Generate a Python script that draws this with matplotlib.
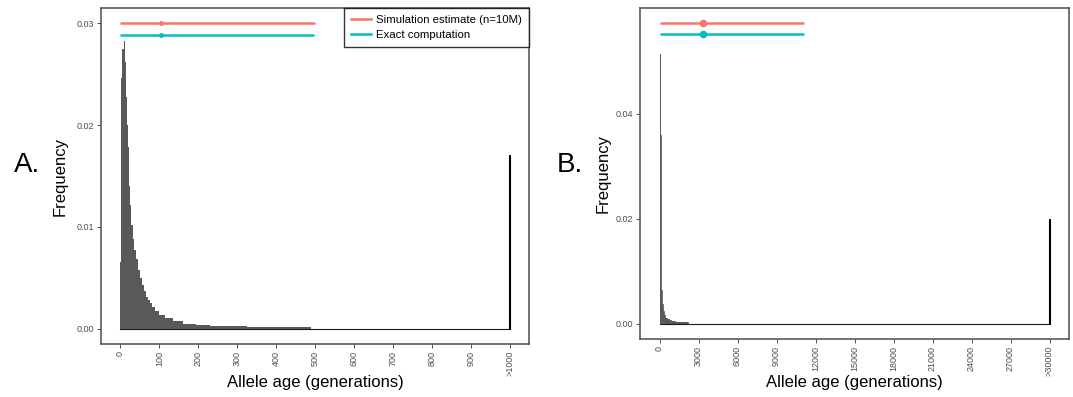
import matplotlib
matplotlib.use("Agg")
import matplotlib.pyplot as plt
from matplotlib.lines import Line2D
import numpy as np

plt.rcParams.update({
    "font.family": ["Liberation Sans", "DejaVu Sans"],
    "font.size": 8,
})

RED = "#F8766D"
CYAN = "#00BFC4"
BAR = "#595959"
FRAME = "#4d4d4d"

# ---- panel A: allele age histogram (generations, bin edges + heights) ----
a_edges = [0, 2, 5, 8, 11, 13, 15, 17, 19, 21, 23, 25, 28, 31, 35, 40, 45, 50,
           55, 60, 65, 70, 75, 80, 90, 100, 115, 135, 160, 195, 230, 255, 325, 490]
a_freq = [0.0066, 0.0246, 0.0275, 0.0283, 0.0262, 0.0245, 0.0228, 0.0200, 0.0178,
          0.0158, 0.0140, 0.0122, 0.0102, 0.0088, 0.0077, 0.0068, 0.0058, 0.0050,
          0.0043, 0.0037, 0.0031, 0.0028, 0.0025, 0.0021, 0.0017, 0.00135, 0.00105,
          0.00075, 0.0005, 0.00038, 0.0003, 0.00022, 0.00015]
a_tail_freq = 0.0171          # ">1000" bin
a_max = 1000
a_ticks = [0, 100, 200, 300, 400, 500, 600, 700, 800, 900, 1000]
a_ticklabels = ["0", "100", "200", "300", "400", "500", "600", "700", "800", "900", ">1000"]
a_yticks = [0.00, 0.01, 0.02, 0.03]

# mean and interval (simulation, exact)
a_mean = [104, 104]
a_lo = [0, 0]
a_hi = [500, 497]
a_y = [0.0300, 0.02885]

# ---- panel B ----
b_edges = [0, 60, 130, 210, 290, 360, 440, 600, 750, 900, 1200, 2230]
b_freq = [0.0514, 0.0359, 0.0065, 0.0037, 0.0025, 0.00165, 0.0012, 0.0009,
          0.0007, 0.0006, 0.0004]
b_tail_freq = 0.0199          # ">30000" bin
b_max = 30000
b_ticks = [0, 3000, 6000, 9000, 12000, 15000, 18000, 21000, 24000, 27000, 30000]
b_ticklabels = ["0", "3000", "6000", "9000", "12000", "15000", "18000", "21000",
                "24000", "27000", ">30000"]
b_yticks = [0.00, 0.02, 0.04]

b_mean = [3340, 3340]
b_lo = [0, 0]
b_hi = [11150, 11150]
b_y = [0.0572, 0.0551]

series_labels = ["Simulation estimate (n=10M)", "Exact computation"]
series_colors = [RED, CYAN]


def draw_panel(ax, edges, freq, tail, xmax, xticks, xticklabels, yticks, ytop,
               mean, lo, hi, yv, ms, bar_lw):
    ax.plot([0, xmax], [0, 0], color="#1a1a1a", lw=0.8, zorder=1)
    ax.stairs(freq, edges, fill=True, color=BAR, zorder=2)
    if bar_lw:
        ax.stairs(freq, edges, fill=False, color=BAR, lw=bar_lw, zorder=2)
    ax.bar([xmax], [tail], width=xmax * 0.002, color="black", edgecolor="black",
           lw=0.8, zorder=2)
    for m, l, h, y, c in zip(mean, lo, hi, yv, series_colors):
        ax.plot([l, h], [y, y], color=c, lw=1.8, solid_capstyle="butt", zorder=3)
        ax.plot([m], [y], "o", color=c, ms=ms, zorder=4)

    pad = xmax * 0.05
    ax.set_xlim(-pad, xmax + pad)
    ax.set_ylim(-ytop * 0.05, ytop * 1.05)
    ax.set_xticks(xticks)
    ax.set_xticklabels(xticklabels, rotation=90, va="top", ha="center")
    ax.set_yticks(yticks)
    ax.set_yticklabels([f"{v:.2f}" for v in yticks])
    ax.tick_params(length=3, width=0.6, color="#333333", labelsize=6.5,
                   labelcolor="#4d4d4d", pad=2)
    for s in ax.spines.values():
        s.set_color(FRAME)
        s.set_linewidth(1.1)
    ax.set_xlabel("Allele age (generations)", fontsize=12)
    ax.set_ylabel("Frequency", fontsize=12)


fig = plt.figure(figsize=(10.73, 3.97), dpi=100)
W, H = 1073, 397
axA = fig.add_axes([101 / W, 1 - 344 / H, 428 / W, 336 / H])
axB = fig.add_axes([640 / W, 1 - 339 / H, 429 / W, 331 / H])

draw_panel(axA, a_edges, a_freq, a_tail_freq, a_max, a_ticks, a_ticklabels,
           a_yticks, max(a_y), a_mean, a_lo, a_hi, a_y, ms=2.5, bar_lw=0)
draw_panel(axB, b_edges, b_freq, b_tail_freq, b_max, b_ticks, b_ticklabels,
           b_yticks, max(b_y), b_mean, b_lo, b_hi, b_y, ms=4.5, bar_lw=0.6)

axA.yaxis.set_label_coords(-0.078, 0.5)
axB.yaxis.set_label_coords(-0.068, 0.5)
axA.xaxis.set_label_coords(0.5, -0.092)
axB.xaxis.set_label_coords(0.5, -0.109)

handles = [Line2D([], [], color=c, lw=1.8) for c in series_colors]
leg = axA.legend(handles, series_labels, loc="upper right", fontsize=8.2,
                 frameon=True, fancybox=False, borderaxespad=0,
                 handlelength=1.8, handletextpad=0.45, borderpad=0.6,
                 labelspacing=0.45)
leg.get_frame().set_edgecolor("black")
leg.get_frame().set_linewidth(1.0)

fig.text(27 / W, 1 - 165 / H, "A.", fontsize=20, ha="center", va="center")
fig.text(570 / W, 1 - 165 / H, "B.", fontsize=20, ha="center", va="center")

fig.savefig("out.png", dpi=100)
